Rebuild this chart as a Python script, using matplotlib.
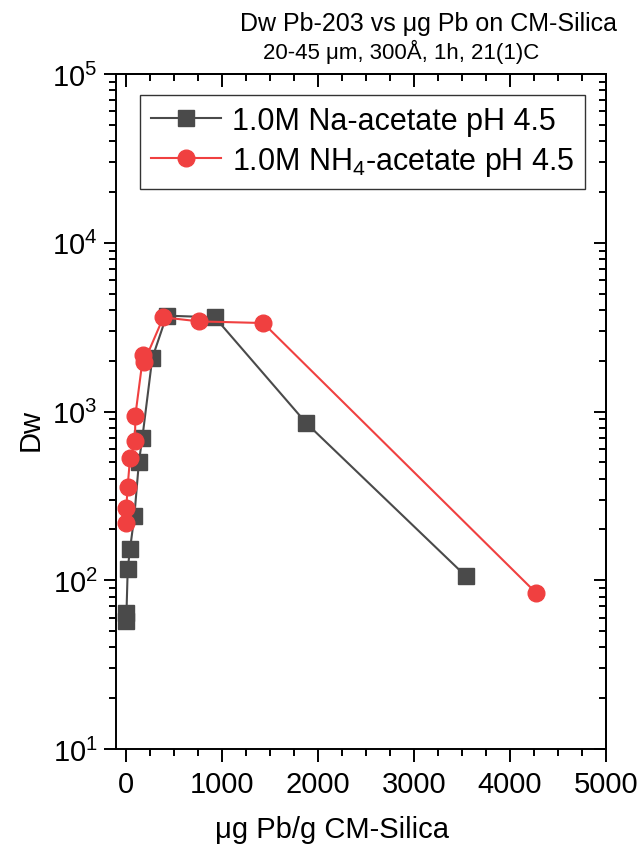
import matplotlib
matplotlib.use("Agg")
import matplotlib.pyplot as plt
from matplotlib.ticker import MultipleLocator, LogLocator, NullFormatter

plt.rcParams['font.family'] = ['Liberation Sans', 'DejaVu Sans']
plt.rcParams['mathtext.fontset'] = 'custom'
plt.rcParams['mathtext.rm'] = 'Liberation Sans'
plt.rcParams['mathtext.it'] = 'Liberation Sans'
plt.rcParams['mathtext.default'] = 'regular'

# Na-acetate series
na_x = [2, 5, 18, 42, 87, 135, 170, 274, 423, 926, 1880, 3538]
na_dw = [57, 64, 117, 153, 240, 505, 697, 2075, 3700, 3615, 851, 106]

# NH4-acetate series
nh4_x = [0, 3, 17, 42, 94, 97, 180, 190, 389, 763, 1429, 4273]
nh4_dw = [217, 268, 358, 529, 666, 944, 2175, 1973, 3615, 3420, 3345, 84]

na_label = "1.0M Na-acetate pH 4.5"
nh4_label = "1.0M NH$_4$-acetate pH 4.5"

fig = plt.figure(figsize=(6.44, 8.53), dpi=100)
ax = fig.add_axes([0.1797, 0.1208, 0.7613, 0.7912])

ax.plot(na_x, na_dw, color='#4a4a4a', lw=1.5, marker='s', ms=11.3,
        mec='#4a4a4a', mfc='#4a4a4a', label=na_label)
ax.plot(nh4_x, nh4_dw, color='#f04040', lw=1.5, marker='o', ms=12,
        mec='#f04040', mfc='#f04040', label=nh4_label)

ax.set_yscale('log')
ax.set_xlim(-107, 5000)
ax.set_ylim(10, 1e5)


def set_locators(axis_x, axis_y):
    if axis_x is not None:
        axis_x.set_major_locator(MultipleLocator(1000))
        axis_x.set_minor_locator(MultipleLocator(250))
    if axis_y is not None:
        axis_y.set_major_locator(LogLocator(base=10))
        axis_y.set_minor_locator(LogLocator(base=10, subs=range(2, 10)))
        axis_y.set_minor_formatter(NullFormatter())


set_locators(ax.xaxis, ax.yaxis)

for s in ax.spines.values():
    s.set_linewidth(1.4)

ax.tick_params(which='both', direction='out', width=1.4, labelsize=21)
ax.tick_params(which='major', length=9)
ax.tick_params(which='minor', length=5)
ax.tick_params(axis='x', pad=6)
ax.tick_params(axis='y', pad=4)

# mirrored ticks on top and right, pointing inward
top = ax.secondary_xaxis('top')
set_locators(top.xaxis, None)
right = ax.secondary_yaxis('right')
set_locators(None, right.yaxis)
for sec in (top, right):
    sec.tick_params(which='both', direction='in', width=1.4,
                    labeltop=False, labelright=False)
    sec.tick_params(which='major', length=9)
    sec.tick_params(which='minor', length=5)
    for s in sec.spines.values():
        s.set_linewidth(1.4)

fig.text(0.047, 1 - 430 / 853, "Dw", fontsize=21, rotation=90,
         ha='center', va='center')
fig.text(0.515, 0.027, "μg Pb/g CM-Silica", fontsize=21, ha='center', va='center')

fig.text(0.665, 0.972, "Dw Pb-203 vs μg Pb on CM-Silica", fontsize=18,
         ha='center', va='center')
fig.text(0.623, 0.939, "20-45 μm, 300Å, 1h, 21(1)C", fontsize=16,
         ha='center', va='center')

leg = ax.legend(loc='upper left', bbox_to_anchor=(0.05, 0.969), fontsize=22,
                frameon=True, fancybox=False, edgecolor='black',
                handlelength=2.3, handletextpad=0.35, borderpad=0.35,
                labelspacing=0.3, borderaxespad=0)
leg.get_frame().set_linewidth(1.0)

fig.savefig("out.png", dpi=100)
